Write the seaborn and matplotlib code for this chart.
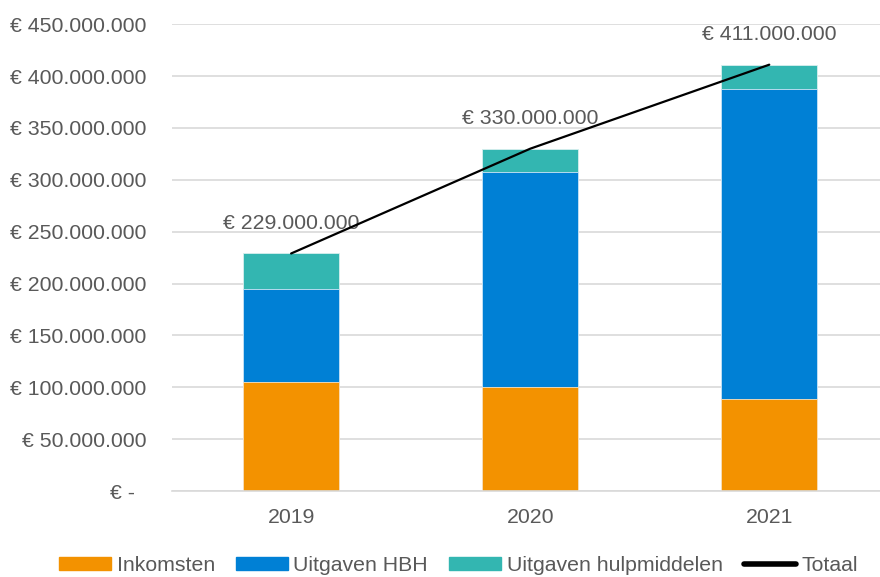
import numpy as np
import pandas as pd
import matplotlib
matplotlib.use("Agg")
import matplotlib.pyplot as plt
import seaborn as sns
from matplotlib.patches import Patch
from matplotlib.lines import Line2D

# data (in euro)
years = ["2019", "2020", "2021"]
inkomsten = [105_000_000, 100_000_000, 89_000_000]
uitgaven_hbh = [90_000_000, 208_000_000, 299_000_000]
uitgaven_hulp = [34_000_000, 22_000_000, 23_000_000]
totaal = [229_000_000, 330_000_000, 411_000_000]
series_names = ["Inkomsten", "Uitgaven HBH", "Uitgaven hulpmiddelen", "Totaal"]
colors = ["#F39200", "#0080D5", "#33B6B1", "#000000"]
yticks = [0, 50_000_000, 100_000_000, 150_000_000, 200_000_000,
          250_000_000, 300_000_000, 350_000_000, 400_000_000, 450_000_000]

sns.set_style("white")
plt.rcParams["font.family"] = ["Liberation Sans", "DejaVu Sans"]
text_grey = "#595959"
fs = 15.3

def euro(v):
    if v == 0:
        return "€ -  "
    return "€ " + f"{v:,}".replace(",", ".")

df = pd.DataFrame({"jaar": years, "ink": inkomsten, "hbh": uitgaven_hbh, "hulp": uitgaven_hulp})
df["hbh_top"] = df["ink"] + df["hbh"]
df["hulp_top"] = df["hbh_top"] + df["hulp"]

fig = plt.figure(figsize=(8.8, 5.77), dpi=100)
ax = fig.add_axes([0.195, 0.149, 0.815, 0.809])

# stacked bars drawn back to front
sns.barplot(data=df, x="jaar", y="hulp_top", color=colors[2], width=0.4,
            saturation=1, ax=ax, edgecolor="#d8efee", linewidth=0.6)
sns.barplot(data=df, x="jaar", y="hbh_top", color=colors[1], width=0.4,
            saturation=1, ax=ax, edgecolor="#cfe6f7", linewidth=0.6)
sns.barplot(data=df, x="jaar", y="ink", color=colors[0], width=0.4,
            saturation=1, ax=ax, edgecolor="#fbe3c2", linewidth=0.6)

ax.plot(range(len(years)), totaal, color="black", lw=1.6, zorder=5)
for i, t in enumerate(totaal):
    ax.annotate(euro(t), (i, t), xytext=(0, 15), textcoords="offset points",
                ha="center", va="bottom", fontsize=fs, color=text_grey)

ax.set_xlim(-0.5, 2.5)
ax.set_ylim(0, 450_000_000)
ax.set_yticks(yticks)
ax.set_yticklabels([euro(v) for v in yticks])
ax.yaxis.grid(True, color="#d9d9d9", lw=1.2)
ax.set_axisbelow(True)
ax.set_xlabel("")
ax.set_ylabel("")
for s in ["top", "right", "left"]:
    ax.spines[s].set_visible(False)
ax.spines["bottom"].set_color("#d9d9d9")
ax.spines["bottom"].set_linewidth(1.2)
ax.tick_params(axis="y", length=0, pad=18, labelsize=fs, labelcolor=text_grey)
ax.tick_params(axis="x", length=0, pad=12, labelsize=fs, labelcolor=text_grey)

handles = [Patch(color=colors[0]), Patch(color=colors[1]), Patch(color=colors[2]),
           Line2D([0], [0], color="black", lw=4, solid_capstyle="round")]
fig.legend(handles, series_names, loc="lower center", ncol=4, frameon=False,
           bbox_to_anchor=(0.521, -0.03), fontsize=fs, labelcolor=text_grey,
           handlelength=2.45, handleheight=0.6, handletextpad=0.25, columnspacing=1.0)

fig.savefig("out.png", dpi=100)
